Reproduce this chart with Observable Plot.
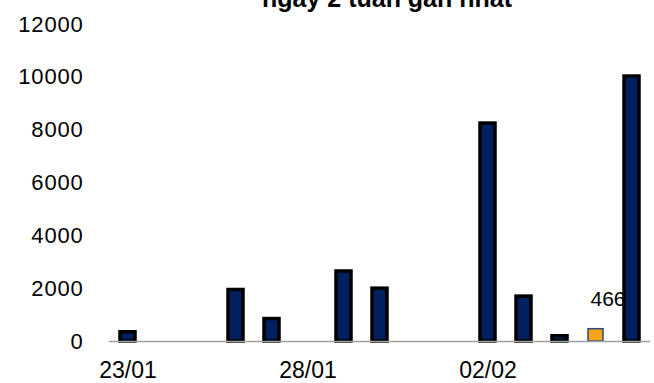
<!DOCTYPE html>
<html>
<head>
<meta charset="utf-8">
<script src="https://cdn.jsdelivr.net/npm/d3@7"></script>
<script src="https://cdn.jsdelivr.net/npm/@observablehq/plot@0.6"></script>
<style>
  html, body { margin: 0; padding: 0; background: #fff; }
  #wrap { position: relative; width: 654px; height: 383px; overflow: hidden; }
  #title {
    position: absolute; top: -14px; left: 387px; transform: translateX(-50%);
    font: bold 25px/25px "Liberation Sans", Arial, sans-serif; color: #000;
    white-space: nowrap; z-index: 2;
  }
  #chart { position: absolute; left: 0; top: 0; }
  #chart g[aria-label="y-axis tick label"] text { letter-spacing: 0.8px; }
</style>
</head>
<body>
<div id="wrap">
  <div id="title">ngày 2 tuần gần nhất</div>
  <div id="chart"></div>
</div>
<script>
// Days shown on the horizontal axis
const days = ["23/01", "24/01", "25/01", "26/01", "27/01", "28/01", "29/01", "30/01",
              "31/01", "01/02", "02/02", "03/02", "04/02", "05/02", "06/02"];
// Daily counts (null = no bar that day)
const counts = [350, null, null, 1950, 850, null, 2650, 2000,
                null, null, 8250, 1700, 200, 466, 10030];
// Highlighted day
const highlightDay = "05/02";
// Axis ticks
const yTicks = [0, 2000, 4000, 6000, 8000, 10000, 12000];
const xTicks = ["23/01", "28/01", "02/02"];

const rows = days.map((d, i) => ({day: d, value: counts[i]})).filter(r => r.value != null);
const normal = rows.filter(r => r.day !== highlightDay);
const highlighted = rows.filter(r => r.day === highlightDay);

const chart = Plot.plot({
  width: 654,
  height: 383,
  marginLeft: 109,
  marginRight: 4,
  marginTop: 24,
  marginBottom: 42,
  style: {fontFamily: "'Liberation Sans', Arial, sans-serif", fontSize: "21px", background: "transparent", color: "#000"},
  x: {domain: days, paddingInner: 0.58, paddingOuter: 0.29},
  y: {domain: [0, 12000]},
  marks: [
    Plot.axisY({ticks: yTicks, tickFormat: d => String(d), tickSize: 0, tickPadding: 26, line: true, stroke: "#a0a0a0", fill: "#000", label: null, fontSize: 22}),
    Plot.axisX({ticks: xTicks, tickSize: 0, tickPadding: 20, label: null, fill: "#000", fontSize: 23}),
    Plot.text(highlighted, {x: "day", y: "value", text: d => String(d.value), dx: 12, dy: -30, fontSize: 21, fill: "#000"}),
    Plot.barY(normal, {x: "day", y: "value", fill: "#002060", stroke: "#000", strokeWidth: 3.5}),
    Plot.barY(highlighted, {x: "day", y: "value", fill: "#F5A31A", stroke: "#2F4A7A", strokeWidth: 1.5}),
    Plot.ruleY([0], {stroke: "#a0a0a0", strokeWidth: 1.5})
  ]
});
document.getElementById("chart").appendChild(chart);
</script>
</body>
</html>
